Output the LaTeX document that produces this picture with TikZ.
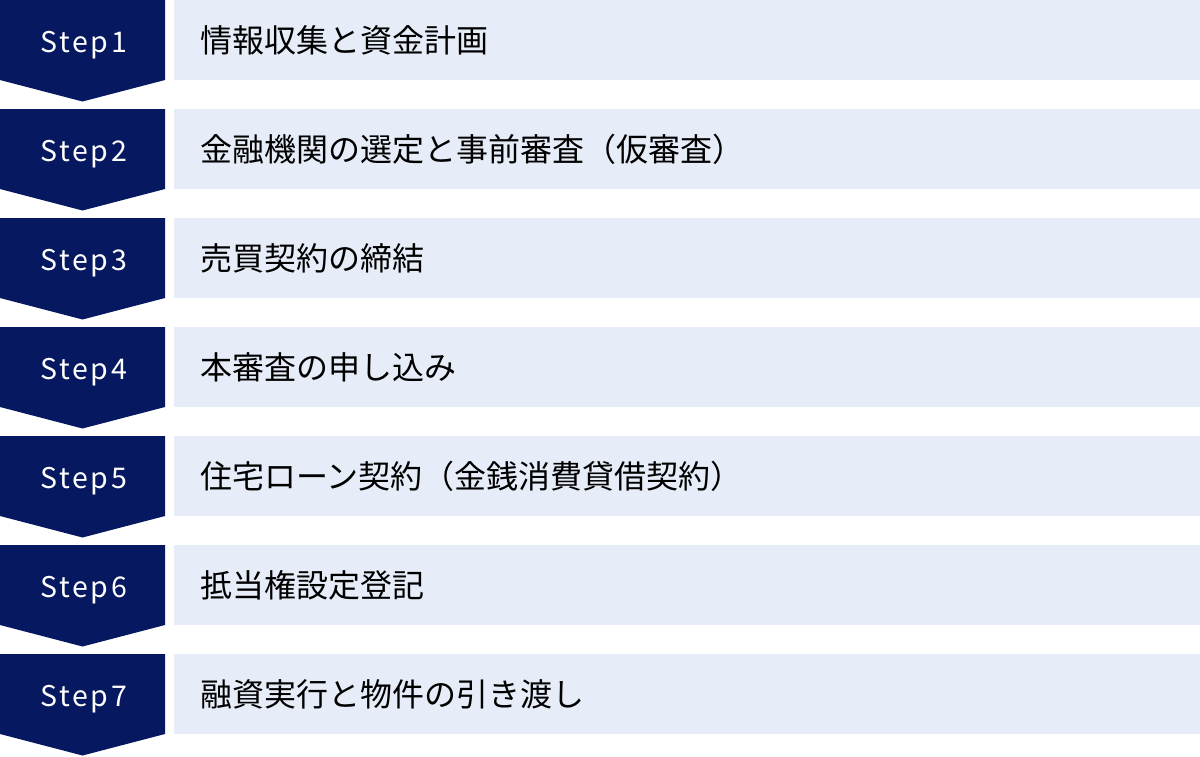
\documentclass[tikz,border=0pt]{standalone}
\usepackage{fontspec}
\setmainfont{Noto Sans CJK JP}
\newfontfamily\stepfont[LetterSpace=9]{Noto Sans CJK JP}
\definecolor{navy}{RGB}{6,24,96}
\definecolor{paleblue}{RGB}{230,236,248}

\begin{document}
\begin{tikzpicture}[x=1pt,y=-1pt,
  chevron/.style={fill=navy},
  band/.style={fill=paleblue},
  steplabel/.style={text=white,font=\stepfont\fontsize{28.5}{32}\selectfont,anchor=base,inner sep=0pt},
  itemlabel/.style={font=\fontsize{32}{36}\selectfont,anchor=base west,inner sep=0pt}]
\useasboundingbox (0,0) rectangle (1200,756);
\foreach \i/\txt in {1/情報収集と資金計画,
                     2/金融機関の選定と事前審査（仮審査）,
                     3/売買契約の締結,
                     4/本審査の申し込み,
                     5/住宅ローン契約（金銭消費貸借契約）,
                     6/抵当権設定登記,
                     7/融資実行と物件の引き渡し}
{
  \pgfmathsetmacro\rowtop{(\i-1)*109}
  \fill[chevron] (0,\rowtop) -- ++(165,0) -- ++(0,80) -- ++(-82.5,21.5) -- ++(-82.5,-21.5) -- cycle;
  \fill[band] (174,\rowtop) rectangle ++(1026,80);
  \node[steplabel] (step\i) at (84,\rowtop+52) {Step\i};
  \node[itemlabel] (item\i) at (200,\rowtop+52) {\txt};
}
\end{tikzpicture}
\end{document}
